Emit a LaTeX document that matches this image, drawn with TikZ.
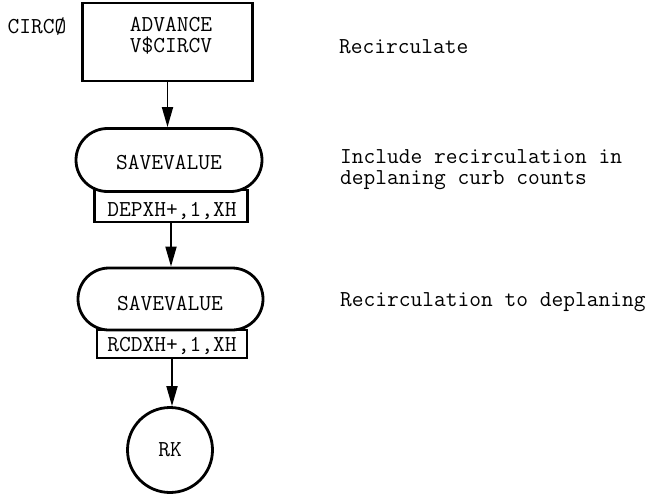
\documentclass[tikz,border=0pt]{standalone}
\usetikzlibrary{shapes.misc,arrows.meta}
\begin{document}
\begin{tikzpicture}[x=1pt,y=-1pt,
  every node/.style={font=\ttfamily\fontsize{22.8}{21}\selectfont, inner sep=0pt},
  blockline/.style={draw, line width=2.8pt},
  flow/.style={line width=1.8pt, -{Triangle[length=20pt,width=11pt]}}]
\useasboundingbox (0,0) rectangle (660,495);

% ADVANCE block
\node[blockline, minimum width=170pt, minimum height=78pt] (adv) at (167.5,42) {};
\node[align=center] (advtxt) at (171,36) {ADVANCE\\V\$CIRCV};
\node (circ) at (37,27) {CIRCØ};
\node[anchor=west] (c1) at (339,47) {Recirculate};

% first SAVEVALUE
\node[blockline, minimum width=153pt, minimum height=32pt] (b1) at (171,206) {};
\node (b1t) at (172,211) {DEPXH+,1,XH};
\node[blockline, rounded rectangle, fill=white, minimum width=186pt, minimum height=63pt] (sv1) at (169,160) {};
\node (sv1t) at (169,163) {SAVEVALUE};
\node[anchor=west, align=left] (c2) at (340,169.5) {Include recirculation in\\deplaning curb counts};

% second SAVEVALUE
\node[blockline, minimum width=150pt, minimum height=28pt] (b2) at (172,344) {};
\node (b2t) at (172,346) {RCDXH+,1,XH};
\node[blockline, rounded rectangle, fill=white, minimum width=185pt, minimum height=62pt] (sv2) at (170.5,299) {};
\node (sv2t) at (170,304) {SAVEVALUE};
\node[anchor=west] (c3) at (340,302) {Recirculation to deplaning};

% terminal
\node[blockline, circle, minimum size=85pt] (rk) at (170,450) {RK};

% connectors
\draw[flow] (adv.south) -- (adv.south |- sv1.north);
\draw[flow] (b1.south) -- (b1.south |- sv2.north);
\draw[flow] (b2.south) -- (b2.south |- rk.north);
\end{tikzpicture}
\end{document}
